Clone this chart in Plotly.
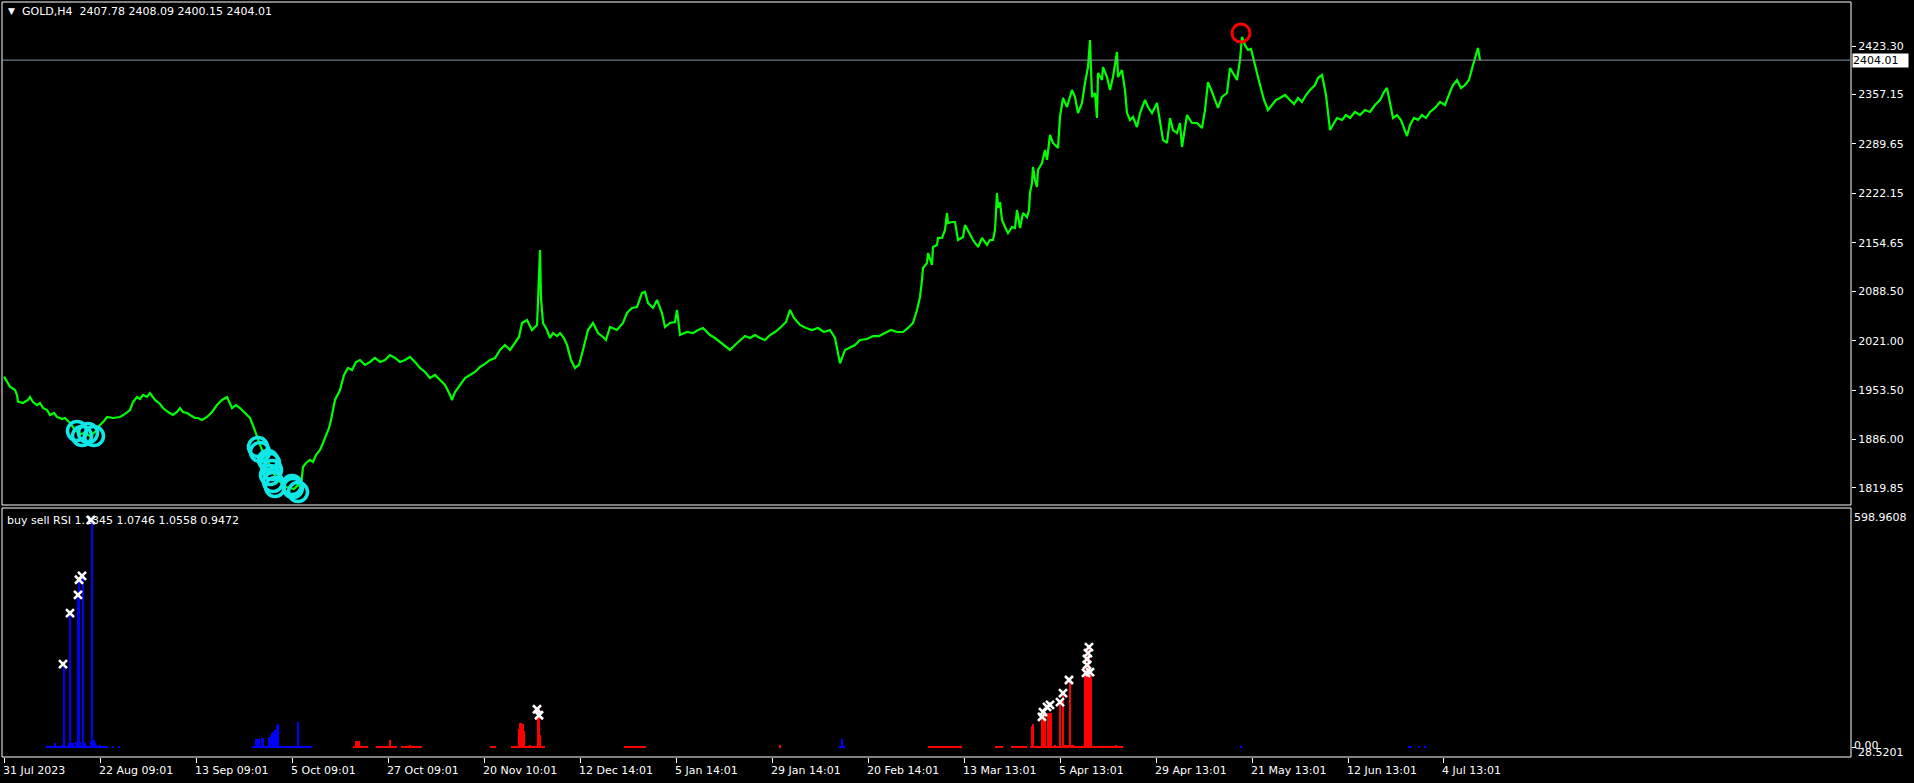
import plotly.graph_objects as go

# ---------------- data (bar number ~ H4 bar position) ----------------
price_bar = [4, 6, 10, 15, 17, 18, 23, 28, 30, 33, 37, 40, 43, 47, 50, 54, 57, 62, 65, 70, 75, 80, 85, 90, 95, 100,
             104, 107, 113, 120, 125, 130, 133, 137, 140, 143, 147, 150, 155, 160, 163, 168, 173, 177, 180, 183, 187,
             190, 195, 198, 202, 207, 212, 217, 222, 227, 230, 232, 236, 240, 245, 250, 254, 258, 262, 266, 270, 274,
             278, 282, 286, 290, 294, 298, 301, 303, 306, 310, 313, 316, 320, 323, 326, 329, 331, 335, 340, 344, 348,
             352, 356, 360, 365, 370, 375, 380, 385, 390, 395, 400, 405, 410, 415, 420, 425, 430, 435, 440, 445, 450,
             452, 455, 460, 465, 470, 475, 480, 485, 490, 495, 500, 505, 510, 515, 519, 522, 527, 532, 537, 538, 540,
             541, 543, 547, 550, 553, 557, 560, 564, 567, 571, 575, 579, 583, 588, 593, 598, 603, 606, 610, 617, 623,
             627, 632, 637, 642, 645, 648, 653, 657, 662, 665, 670, 675, 677, 680, 687, 693, 698, 703, 710, 715, 720,
             725, 730, 735, 740, 745, 750, 755, 760, 765, 770, 775, 781, 786, 790, 794, 800, 806, 812, 818, 824, 830,
             835, 840, 845, 850, 855, 860, 867, 873, 879, 885, 891, 897, 903, 908, 913, 917, 920, 922, 923, 927, 928,
             932, 933, 937, 938, 942, 945, 947, 948, 952, 955, 958, 963, 965, 970, 973, 978, 982, 987, 990, 993, 995,
             997, 998, 1000, 1002, 1005, 1008, 1012, 1015, 1017, 1020, 1023, 1027, 1029, 1030, 1032, 1033, 1035, 1037,
             1038, 1042, 1045, 1047, 1050, 1053, 1058, 1060, 1063, 1067, 1072, 1075, 1078, 1082, 1085, 1088, 1090,
             1092, 1095, 1097, 1098, 1102, 1103, 1107, 1110, 1113, 1117, 1118, 1122, 1125, 1127, 1130, 1133, 1137,
             1140, 1145, 1148, 1152, 1157, 1160, 1163, 1167, 1170, 1173, 1177, 1180, 1182, 1187, 1192, 1197, 1202,
             1205, 1208, 1212, 1215, 1218, 1222, 1227, 1230, 1233, 1237, 1240, 1242, 1245, 1248, 1251, 1254, 1257,
             1260, 1264, 1268, 1272, 1276, 1280, 1285, 1290, 1294, 1298, 1302, 1306, 1310, 1315, 1318, 1322, 1326,
             1330, 1333, 1337, 1342, 1346, 1350, 1355, 1360, 1365, 1370, 1375, 1380, 1384, 1387, 1390, 1393, 1397,
             1401, 1407, 1410, 1414, 1418, 1422, 1426, 1430, 1435, 1440, 1445, 1450, 1453, 1457, 1461, 1465, 1469,
             1473, 1476, 1478, 1480]
price_close = [1971.8, 1967.3, 1958.2, 1953.6, 1946.8, 1937.7, 1935.9, 1940.0, 1944.1, 1937.2, 1933.1, 1935.9, 1929.0,
               1926.3, 1919.5, 1922.2, 1916.8, 1914.0, 1915.4, 1908.6, 1899.0, 1893.6, 1894.9, 1890.8, 1896.3, 1905.9,
               1911.3, 1916.8, 1915.4, 1916.8, 1920.9, 1926.3, 1937.2, 1944.1, 1941.3, 1946.8, 1944.1, 1949.5, 1940.0,
               1934.5, 1929.0, 1923.6, 1919.5, 1923.6, 1929.0, 1923.6, 1922.2, 1919.5, 1915.4, 1915.4, 1912.7, 1916.8,
               1923.6, 1933.1, 1940.0, 1944.1, 1934.5, 1929.0, 1933.1, 1929.0, 1922.2, 1915.4, 1901.7, 1885.4, 1871.7,
               1860.8, 1849.9, 1838.9, 1830.8, 1825.3, 1821.2, 1819.8, 1818.5, 1823.9, 1821.2, 1848.5, 1854.0, 1858.1,
               1855.3, 1864.9, 1871.7, 1881.3, 1890.8, 1901.7, 1912.7, 1940.0, 1953.6, 1974.1, 1983.7, 1980.9, 1991.9,
               1994.6, 1987.8, 1991.9, 1997.3, 1991.9, 1994.6, 2001.4, 1997.3, 1991.9, 1994.6, 1998.7, 1991.9, 1983.7,
               1978.2, 1970.0, 1974.1, 1967.3, 1960.5, 1946.8, 1940.0, 1950.9, 1960.5, 1970.0, 1974.1, 1978.2, 1985.1,
               1989.2, 1994.6, 1997.3, 2008.3, 2015.1, 2008.3, 2019.2, 2026.0, 2045.1, 2049.2, 2035.5, 2042.4, 2073.8,
               2144.8, 2079.2, 2045.1, 2035.5, 2024.6, 2031.4, 2027.3, 2031.4, 2024.6, 2015.1, 1994.6, 1983.7, 1987.8,
               2008.3, 2035.5, 2045.1, 2031.4, 2026.0, 2021.9, 2039.6, 2035.5, 2045.1, 2058.8, 2065.6, 2067.0, 2086.1,
               2087.4, 2072.4, 2065.6, 2076.5, 2058.8, 2039.6, 2045.1, 2046.5, 2062.9, 2028.7, 2032.8, 2031.4, 2035.5,
               2038.3, 2028.7, 2024.6, 2019.2, 2013.7, 2008.3, 2015.1, 2021.9, 2027.3, 2024.6, 2028.7, 2024.6, 2021.9,
               2028.7, 2032.8, 2039.6, 2046.5, 2062.9, 2052.0, 2042.4, 2038.3, 2035.5, 2038.3, 2032.8, 2035.5, 2024.6,
               1990.0, 2008.3, 2012.3, 2015.1, 2021.9, 2023.2, 2027.3, 2027.3, 2031.4, 2035.5, 2032.8, 2032.8, 2038.3,
               2045.1, 2062.9, 2080.6, 2103.8, 2120.2, 2127.0, 2140.7, 2124.3, 2148.9, 2151.6, 2161.2, 2161.2, 2172.1,
               2195.3, 2181.6, 2183.0, 2183.0, 2158.4, 2162.5, 2178.9, 2165.3, 2158.4, 2148.9, 2161.2, 2151.6, 2158.4,
               2158.4, 2172.1, 2222.6, 2202.1, 2210.3, 2185.7, 2176.2, 2168.0, 2176.2, 2174.8, 2199.4, 2174.8, 2195.3,
               2189.8, 2199.4, 2222.6, 2236.3, 2258.1, 2240.4, 2230.8, 2254.0, 2263.6, 2281.3, 2267.7, 2301.8, 2290.9,
               2284.1, 2326.4, 2352.3, 2340.0, 2363.2, 2353.7, 2331.8, 2345.5, 2372.8, 2394.6, 2431.5, 2353.7, 2359.1,
               2325.0, 2386.4, 2376.9, 2394.6, 2381.0, 2363.2, 2381.0, 2415.1, 2381.0, 2390.5, 2363.2, 2331.8, 2322.3,
               2326.4, 2312.7, 2331.8, 2349.6, 2340.0, 2331.8, 2345.5, 2322.3, 2295.0, 2290.9, 2325.0, 2308.6, 2304.5,
               2318.2, 2285.4, 2329.1, 2318.2, 2318.2, 2311.3, 2335.9, 2374.1, 2360.5, 2349.6, 2338.7, 2353.7, 2359.1,
               2393.3, 2386.4, 2376.9, 2404.2, 2435.6, 2424.7, 2417.8, 2419.2, 2404.2, 2386.4, 2370.0, 2349.6, 2335.9,
               2342.7, 2349.6, 2352.3, 2356.4, 2349.6, 2344.1, 2352.3, 2346.8, 2356.4, 2363.2, 2370.0, 2379.6, 2383.7,
               2356.4, 2308.6, 2315.4, 2325.0, 2322.3, 2329.1, 2325.0, 2333.2, 2329.1, 2335.9, 2333.2, 2342.7, 2349.6,
               2360.5, 2366.0, 2342.7, 2325.0, 2329.1, 2322.3, 2300.4, 2315.4, 2325.0, 2322.3, 2329.1, 2325.0, 2333.2,
               2338.7, 2346.8, 2342.7, 2360.5, 2370.0, 2376.9, 2366.0, 2370.0, 2376.9, 2397.4, 2411.0, 2420.6, 2404.0]

last_price = 2404.01
header_ohlc = ["2407.78", "2408.09", "2400.15", "2404.01"]

buy_circle_bar = [77, 82, 88, 94, 258, 260, 268, 270, 272, 270, 273, 275, 292, 293, 298]
buy_circle_price = [1897.7, 1890.8, 1894.9, 1890.8, 1875.8, 1869.0, 1858.1, 1854.0, 1844.4, 1837.6, 1828.0, 1821.2,
                    1823.9, 1819.8, 1814.4]
sell_circle_bar = [1241]
sell_circle_price = [2441.0]

price_ticks = [2423.30, 2357.15, 2289.65, 2222.15, 2154.65, 2088.50, 2021.00, 1953.50, 1886.00, 1819.85]

time_tick_bar = [4, 100, 196, 292, 388, 484, 580, 676, 772, 868, 964, 1060, 1156, 1252, 1348, 1443]
time_tick_text = ["31 Jul 2023", "22 Aug 09:01", "13 Sep 09:01", "5 Oct 09:01", "27 Oct 09:01", "20 Nov 10:01",
                  "12 Dec 14:01", "5 Jan 14:01", "29 Jan 14:01", "20 Feb 14:01", "13 Mar 13:01", "5 Apr 13:01",
                  "29 Apr 13:01", "21 May 13:01", "12 Jun 13:01", "4 Jul 13:01"]

buy_bar = [55, 62, 64, 66, 69, 70, 71, 72, 73, 76, 77, 78, 79, 80, 83, 84, 85, 87, 91, 92, 93, 94, 95, 96, 100,
           256, 257, 258, 259, 262, 263, 269, 270, 271, 272, 273, 275, 277, 278, 282, 286, 292, 298, 842]
buy_val = [11, 5, 210, 4, 12, 339, 12, 12, 10, 14, 14, 385, 423, 14, 433, 14, 10, 4, 15, 574, 18, 18, 12, 5, 5,
           20, 20, 20, 20, 23, 23, 25, 25, 28, 35, 38, 44, 56, 59, 3, 3, 3, 64, 20]
buy_floor_start = [46, 112, 118, 252, 839, 1240, 1408, 1418, 1424]
buy_floor_end = [108, 114, 120, 312, 845, 1242, 1412, 1420, 1426]

sell_bar = [356, 357, 358, 359, 380, 390, 405, 410, 415, 519, 520, 521, 522, 523, 524, 530, 538, 539, 540, 780,
            996, 1032, 1033, 1040, 1042, 1043, 1044, 1045, 1048, 1049, 1050, 1051, 1052, 1055, 1060, 1063, 1064,
            1066, 1068, 1070, 1072, 1073, 1085, 1086, 1087, 1088, 1089, 1090, 1091, 1092, 1093, 1097, 1098, 1102,
            1116]
sell_val = [16, 16, 16, 16, 3, 19, 4, 6, 4, 45, 62, 62, 55, 58, 40, 5, 97, 104, 30, 5,
            3, 54, 59, 3, 77, 77, 77, 77, 87, 87, 87, 87, 4, 5, 112, 137, 5,
            5, 5, 170, 5, 5, 188, 195, 210, 253, 230, 200, 188, 4, 4, 4, 4, 3,
            6]
sell_floor_start = [353, 376, 401, 490, 511, 624, 928, 996, 1011, 1030]
sell_floor_end = [368, 397, 422, 496, 545, 646, 962, 1003, 1027, 1123]
floor_val = 2

signal_bar = [63, 70, 78, 79, 82, 91, 537, 539, 1042, 1043, 1047, 1050, 1060, 1063, 1069, 1086, 1090, 1087, 1087,
              1088, 1089]
signal_val = [210, 339, 385, 423, 433, 574, 96, 81, 77, 89, 102, 107, 114, 137, 170, 188, 190, 208, 223, 238, 253]

rsi_name = "buy sell RSI"
rsi_vals = ["1.1345", "1.0746", "1.0558", "0.9472"]
sub_max_label = "598.9608"
sub_labels_bottom = ["0.00", "28.5201"]

# ---------------- layout geometry ----------------
W, H = 1914, 783
ML, MR, MT, MB = 2, 63, 2, 26
PW, PH = W - ML - MR, H - MT - MB


def px(x):
    return (x - ML) / PW


def py(y):
    return (H - MB - y) / PH


main_dom = [py(505), 1.0]
sub_dom = [0.0, py(508)]

FONT = "DejaVu Sans"
GREEN = "#00ff00"

fig = go.Figure()

fig.add_trace(go.Scatter(x=price_bar, y=price_close, mode="lines", line=dict(color=GREEN, width=2.2),
                         xaxis="x", yaxis="y", hoverinfo="skip"))
fig.add_trace(go.Scatter(x=buy_circle_bar, y=buy_circle_price, mode="markers",
                         marker=dict(symbol="circle-open", size=19, color="#10e8e8", line=dict(width=3.5, color="#10e8e8")),
                         xaxis="x", yaxis="y"))
fig.add_trace(go.Scatter(x=sell_circle_bar, y=sell_circle_price, mode="markers",
                         marker=dict(symbol="circle-open", size=18, color="#ff0000", line=dict(width=3, color="#ff0000")),
                         xaxis="x", yaxis="y"))

# histogram
buy_floor_mid = [(a + b) / 2 for a, b in zip(buy_floor_start, buy_floor_end)]
buy_floor_w = [b - a for a, b in zip(buy_floor_start, buy_floor_end)]
sell_floor_mid = [(a + b) / 2 for a, b in zip(sell_floor_start, sell_floor_end)]
sell_floor_w = [b - a for a, b in zip(sell_floor_start, sell_floor_end)]

fig.add_trace(go.Bar(x=buy_floor_mid, y=[floor_val] * len(buy_floor_mid), width=buy_floor_w,
                     marker=dict(color="#0000ff", line=dict(width=0)), xaxis="x", yaxis="y2"))
fig.add_trace(go.Bar(x=sell_floor_mid, y=[floor_val] * len(sell_floor_mid), width=sell_floor_w,
                     marker=dict(color="#ff0000", line=dict(width=0)), xaxis="x", yaxis="y2"))
fig.add_trace(go.Bar(x=buy_bar, y=buy_val, width=1.2, marker=dict(color="#0000ff", line=dict(width=0)),
                     xaxis="x", yaxis="y2"))
fig.add_trace(go.Bar(x=sell_bar, y=sell_val, width=1.2, marker=dict(color="#ff0000", line=dict(width=0)),
                     xaxis="x", yaxis="y2"))
fig.add_trace(go.Scatter(x=signal_bar, y=signal_val, mode="markers",
                         marker=dict(symbol="x-thin", size=8, color="white", line=dict(width=2.6, color="white")),
                         xaxis="x", yaxis="y2"))

fig.update_layout(
    width=W, height=H, margin=dict(l=ML, r=MR, t=MT, b=MB),
    paper_bgcolor="black", plot_bgcolor="black", showlegend=False,
    barmode="overlay", bargap=0,
    font=dict(family=FONT, size=11, color="white"),
    xaxis=dict(domain=[0, 1], range=[2, 1851], anchor="y2", showgrid=False, zeroline=False, showline=False,
               tickvals=time_tick_bar, ticks="outside", ticklen=5, tickcolor="white", tickwidth=1,
               showticklabels=False, fixedrange=True),
    yaxis=dict(domain=main_dom, range=[1796.6, 2483.4], side="right", anchor="x", showgrid=False,
               zeroline=False, showline=False, tickvals=price_ticks,
               ticktext=[f"{v:.2f}" for v in price_ticks], ticks="outside", ticklen=4, tickcolor="white",
               tickfont=dict(family=FONT, size=11, color="white")),
    yaxis2=dict(domain=sub_dom, range=[-24.5, 604.3], side="right", anchor="x", showgrid=False,
                zeroline=False, showline=False, showticklabels=False, tickvals=[0], ticks="outside",
                ticklen=4, tickcolor="white"),
)

shapes = [
    dict(type="rect", xref="paper", yref="paper", x0=0, x1=1, y0=main_dom[0], y1=main_dom[1],
         line=dict(color="white", width=1)),
    dict(type="rect", xref="paper", yref="paper", x0=0, x1=1, y0=sub_dom[0], y1=sub_dom[1],
         line=dict(color="white", width=1)),
    dict(type="line", xref="paper", yref="y", x0=0, x1=1, y0=last_price, y1=last_price,
         line=dict(color="#8a94a6", width=1)),
]
fig.update_layout(shapes=shapes)

ann = []
# header
ann.append(dict(x=px(6), y=py(11), xref="paper", yref="paper", xanchor="left", yanchor="middle",
                text="▼", showarrow=False, font=dict(family=FONT, size=9, color="white")))
ann.append(dict(x=px(20), y=py(11), xref="paper", yref="paper", xanchor="left", yanchor="middle",
                text="GOLD,H4\u00a0\u00a0" + " ".join(header_ohlc), showarrow=False,
                font=dict(family=FONT, size=11, color="white")))
ann.append(dict(x=px(5), y=py(520), xref="paper", yref="paper", xanchor="left", yanchor="middle",
                text=rsi_name + " " + " ".join(rsi_vals), showarrow=False,
                font=dict(family=FONT, size=11, color="white")))
# last price box
ann.append(dict(x=px(1852), y=last_price, xref="paper", yref="y", xanchor="left", yanchor="middle",
                text=f"{last_price:.2f}", showarrow=False, bgcolor="white", borderpad=0, width=55,
                align="left", font=dict(family=FONT, size=11, color="black")))
# sub window labels (overlapping pair as in the source terminal)
ann.append(dict(x=px(1852), y=py(517), xref="paper", yref="paper", xanchor="left", yanchor="middle",
                text=sub_max_label, showarrow=False, font=dict(family=FONT, size=11, color="white")))
ann.append(dict(x=px(1852), y=py(745), xref="paper", yref="paper", xanchor="left", yanchor="middle",
                text=sub_labels_bottom[0], showarrow=False, font=dict(family=FONT, size=11, color="white")))
ann.append(dict(x=px(1856), y=py(752), xref="paper", yref="paper", xanchor="left", yanchor="middle",
                text=sub_labels_bottom[1], showarrow=False, font=dict(family=FONT, size=11, color="white")))
# time labels
for b, t in zip(time_tick_bar, time_tick_text):
    ann.append(dict(x=b, y=py(770), xref="x", yref="paper", xanchor="left", yanchor="middle", xshift=-3,
                    text=t, showarrow=False, font=dict(family=FONT, size=11, color="white")))
fig.update_layout(annotations=ann)

fig.write_html("out.html", config={"displayModeBar": False},
               post_script="document.body.style.margin='0px';document.body.style.background='black';")
